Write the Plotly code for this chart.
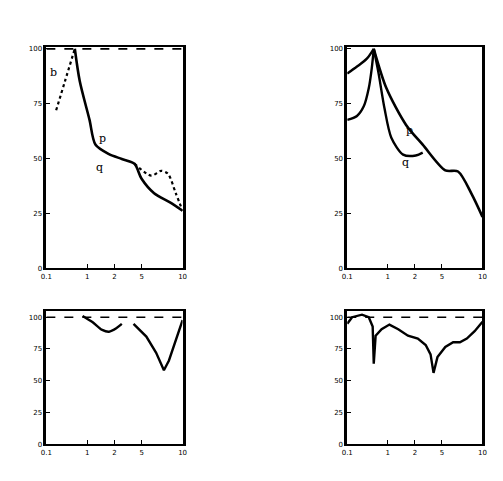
import plotly.graph_objects as go

# ---- data (arbitrary units 0-10) ----
tl_a_x = [2.09, 2.45, 3.17, 3.60, 4.60, 5.54, 6.47, 6.98, 7.91, 9.14, 10.0]
tl_a_y = [10.0, 8.53, 6.76, 5.64, 5.20, 4.98, 4.76, 4.09, 3.42, 2.98, 2.62]
tl_b_x = [6.47, 7.70, 8.42, 8.92, 9.50, 10.0]
tl_b_y = [4.76, 4.22, 4.44, 4.31, 3.42, 2.62]
tl_c_x = [0.72, 1.37, 2.09]
tl_c_y = [7.20, 8.53, 10.0]

tr_l1_x = [0.0, 0.72, 1.45, 1.96]
tr_l1_y = [8.87, 9.19, 9.55, 10.0]
tr_l2_x = [0.0, 0.72, 1.23, 1.59, 1.81, 1.96]
tr_l2_y = [6.76, 6.94, 7.39, 8.20, 9.10, 10.0]
tr_r1_x = [1.96, 2.32, 2.75, 3.26, 4.13, 5.07, 5.58]
tr_r1_y = [10.0, 8.87, 7.30, 5.95, 5.18, 5.14, 5.27]
tr_r2_x = [1.96, 2.90, 4.35, 5.58, 7.25, 8.19, 9.20, 10.0]
tr_r2_y = [10.0, 8.20, 6.53, 5.63, 4.46, 4.41, 3.38, 2.34]

bl_a_x = [2.66, 3.38, 4.10, 4.60, 5.18, 5.54]
bl_a_y = [10.1, 9.62, 9.00, 8.86, 9.17, 9.47]
bl_b_x = [6.40, 7.34, 8.06, 8.63, 9.00, 9.50, 10.0]
bl_b_y = [9.47, 8.48, 7.20, 5.83, 6.60, 8.10, 9.77]

br_x = [0.0, 0.36, 1.09, 1.59, 1.88, 1.96, 2.10, 2.54, 3.12, 3.77, 4.49, 5.22,
        5.80, 6.16, 6.38, 6.67, 7.25, 7.83, 8.33, 8.84, 9.42, 10.0]
br_y = [9.49, 10.0, 10.2, 10.0, 9.27, 6.35, 8.54, 9.05, 9.42, 9.05, 8.54, 8.32,
        7.81, 7.08, 5.62, 6.86, 7.66, 8.03, 8.03, 8.32, 8.90, 9.64]

ref_x = [0.0, 10.0]
ref_y = [10.0, 10.0]

x_ticks = [0, 3, 5, 7, 10]
x_labels = ["0.1", "1", "2", "5", "10"]
y_ticks = [0, 2.5, 5, 7.5, 10]
y_labels = ["0", "25", "50", "75", "100"]

fig = go.Figure()

def line(x, y, xa, ya, dash="solid", w=2.2, smooth=True):
    fig.add_trace(go.Scatter(x=x, y=y, xaxis=xa, yaxis=ya, mode="lines",
                             line=dict(color="black", width=w, dash=dash,
                                       shape="spline" if smooth else "linear",
                                       smoothing=0.8),
                             showlegend=False, hoverinfo="skip"))

line(tl_a_x, tl_a_y, "x", "y", w=2.6)
line(tl_b_x, tl_b_y, "x", "y", dash="dot")
line(tl_c_x, tl_c_y, "x", "y", dash="dot")
line(ref_x, ref_y, "x", "y", dash="dash", w=1.8, smooth=False)

line(tr_l1_x, tr_l1_y, "x2", "y2", w=2.4)
line(tr_l2_x, tr_l2_y, "x2", "y2", w=2.4)
line(tr_r1_x, tr_r1_y, "x2", "y2", w=2.4)
line(tr_r2_x, tr_r2_y, "x2", "y2", w=2.6)

line(bl_a_x, bl_a_y, "x3", "y3", w=2.4)
line(bl_b_x, bl_b_y, "x3", "y3", w=2.4, smooth=False)
line(ref_x, ref_y, "x3", "y3", dash="dash", w=1.6, smooth=False)

line(br_x, br_y, "x4", "y4", w=2.4, smooth=False)
line(ref_x, ref_y, "x4", "y4", dash="dash", w=1.6, smooth=False)

LX = [33 / 503, 172 / 503]
RX = [340 / 503, 478 / 503]
TY = [(481 - 262) / 481, (481 - 38) / 481]
BY = [(481 - 440) / 481, (481 - 305) / 481]

FONT = dict(size=7, color="#000000", family="DejaVu Sans")

def xax(dom, anchor):
    return dict(domain=dom, anchor=anchor, range=[0, 10], showgrid=False, zeroline=False,
                showline=True, linecolor="black", linewidth=2, mirror=True,
                ticks="inside", ticklen=4, tickcolor="black",
                tickvals=x_ticks, ticktext=x_labels, tickfont=FONT)

def yax(dom, anchor, rng):
    return dict(domain=dom, anchor=anchor, range=rng, showgrid=False, zeroline=False,
                showline=True, linecolor="black", linewidth=2.5, mirror=True,
                ticks="inside", ticklen=4, tickcolor="black",
                tickvals=y_ticks, ticktext=y_labels, tickfont=FONT)

fig.update_layout(
    width=503, height=481, margin=dict(l=0, r=0, t=0, b=0),
    paper_bgcolor="white", plot_bgcolor="white",
    font=dict(color="black"),
    xaxis=xax(LX, "y"), yaxis=yax(TY, "x", [0, 10.1]),
    xaxis2=xax(RX, "y2"), yaxis2=yax(TY, "x2", [0, 10.1]),
    xaxis3=xax(LX, "y3"), yaxis3=yax(BY, "x3", [0, 10.5]),
    xaxis4=xax(RX, "y4"), yaxis4=yax(BY, "x4", [0, 10.5]),
)

notes = [("b", 0.55, 8.9, "x", "y"), ("p", 4.1, 5.9, "x", "y"), ("q", 3.9, 4.6, "x", "y"),
         ("p", 4.6, 6.3, "x2", "y2"), ("q", 4.3, 4.8, "x2", "y2")]
for t, ax_, ay_, xr, yr in notes:
    fig.add_annotation(text=t, x=ax_, y=ay_, xref=xr, yref=yr, showarrow=False,
                       font=dict(size=11, color="black", family="DejaVu Serif"))

fig.write_html("out.html")
